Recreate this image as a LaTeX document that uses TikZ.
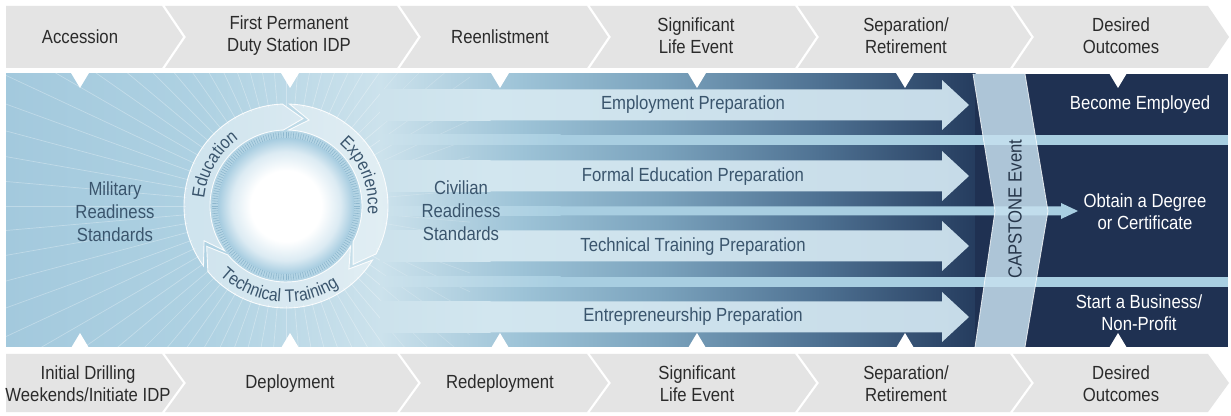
\documentclass[tikz,border=0pt]{standalone}
\usepackage{fontspec}
\setmainfont[FakeStretch=0.88]{Liberation Sans}
\usetikzlibrary{decorations.text}
\definecolor{graybox}{HTML}{E4E4E4}
\definecolor{graytext}{HTML}{2B2B2B}
\definecolor{bluetext}{HTML}{3A556D}
\definecolor{captext}{HTML}{26364A}
\definecolor{bgA}{HTML}{A3C9DD}
\definecolor{bgB}{HTML}{AED1E2}
\definecolor{bgC}{HTML}{CCE2EC}
\definecolor{dkA}{HTML}{CCE2EC}
\definecolor{dkB}{HTML}{9DC3D7}
\definecolor{dkC}{HTML}{7BA3BD}
\definecolor{dkD}{HTML}{4E7192}
\definecolor{dkE}{HTML}{253C5E}
\definecolor{navy}{HTML}{1F3152}
\definecolor{stripe}{HTML}{A8CEE1}
\definecolor{shaftL}{HTML}{D2E6EF}
\definecolor{shaftR}{HTML}{C6DBE8}
\definecolor{capfill}{HTML}{C6E0EF}
\definecolor{rimblue}{HTML}{8DB7CE}
\definecolor{rimbg}{HTML}{B5D5E5}
\definecolor{sphereA}{HTML}{DCEBF3}
\definecolor{sphereB}{HTML}{A6CCE0}
\pgfdeclareradialshading{spheresh}{\pgfpoint{0bp}{0bp}}{color(0bp)=(white); color(13bp)=(white); color(20bp)=(sphereA); color(25bp)=(sphereB); color(50bp)=(sphereB)}
\newcommand\ringfnt{\fontsize{18}{18}\selectfont\color{bluetext}}
\begin{document}
\begin{tikzpicture}[x=1pt,y=1pt,
  lbl/.style={font=\fontsize{19}{22}\selectfont, align=center, text=graytext},
  bluelbl/.style={font=\fontsize{19}{23}\selectfont, align=center, text=bluetext},
  whitelbl/.style={font=\fontsize{19}{22}\selectfont, align=center, text=white},
  caplbl/.style={font=\fontsize{19}{22}\selectfont, text=captext},
  chev/.style={fill=graybox, draw=none},
  ringseg/.style={fill=white, fill opacity=0.42, draw=white, draw opacity=0.9, line width=0.9pt},
]
\useasboundingbox (0,0) rectangle (1231,415);
\fill[white] (0,0) rectangle (1231,415);

% ---------- gray chevron bands ----------
\fill[chev] (6,409) -- (162,409) -- (183,378) -- (162,347) -- (6,347) -- cycle;
\foreach \a/\b in {162/397,397/587,587/795,795/1010,1010/1208}
  \fill[chev] ({\a+3},409) -- (\b,409) -- ({\b+21},378) -- (\b,347) -- ({\a+3},347) -- ({\a+24},378) -- cycle;
\fill[chev] (6,61) -- (162,61) -- (183,32) -- (162,3) -- (6,3) -- cycle;
\foreach \a/\b in {162/397,397/587,587/795,795/1010,1010/1208}
  \fill[chev] ({\a+3},61) -- (\b,61) -- ({\b+21},32) -- (\b,3) -- ({\a+3},3) -- ({\a+24},32) -- cycle;

% ---------- blue band base ----------
\shade[left color=bgA, right color=bgB] (6,68) rectangle (200.5,341);
\shade[left color=bgB, right color=bgC] (200,68) rectangle (380.5,341);

% rays
\begin{scope}
  \clip (6,68) rectangle (380,341);
  \foreach \t in {0,5,...,355}
    \draw[white, opacity=0.3, line width=0.7pt] (286,209) ++(\t:100) -- ++(\t:520);
\end{scope}

% dark gradient layer
\shade[left color=dkA, right color=dkB] (380,68) rectangle (520.5,341);
\shade[left color=dkB, right color=dkC] (520,68) rectangle (660.5,341);
\shade[left color=dkC, right color=dkD] (660,68) rectangle (820.5,341);
\shade[left color=dkD, right color=dkE] (820,68) rectangle (975.5,341);
\fill[navy] (975,68) rectangle (1228,341);

% faint rays continuing into the stripes
\begin{scope}
  \clip (380,68) rectangle (470,341);
  \foreach \t in {-60,-55,...,60}
    \draw[white, opacity=0.18, line width=0.7pt] (286,209) ++(\t:100) -- ++(\t:520);
\end{scope}

% pale stripes
\shade[left color=dkA, right color=stripe] (380,270) rectangle (560.5,280);
\fill[stripe] (560,270) rectangle (1228,280);
\shade[left color=dkA, right color=stripe] (380,128) rectangle (560.5,138);
\fill[stripe] (560,128) rectangle (1228,138);
\shade[left color=dkA, right color=stripe] (380,199.5) rectangle (560.5,208.5);
\fill[stripe] (560,199.5) -- (1061,199.5) -- (1061,196) -- (1078,204) -- (1061,212) -- (1061,208.5) -- (560,208.5) -- cycle;

% preparation arrows (shaft blends in from the light left side)
\foreach \c in {310,239,169,98} {
  \shade[left color=dkA, right color=shaftL] (380,{\c-15.5}) rectangle (490.5,{\c+15.5});
  \shade[left color=shaftL, right color=shaftR]
    (490,{\c+15.5}) -- (942,{\c+15.5}) -- (942,{\c+25}) -- (969,\c) -- (942,{\c-25}) -- (942,{\c-15.5}) -- (490,{\c-15.5}) -- cycle;
}

% capstone chevron
\fill[capfill, fill opacity=0.85] (973,341) -- (1025,341) -- (1048,204) -- (1025,68) -- (975,68) -- (995,204) -- cycle;
\draw[white, line width=0.8pt, opacity=0.8] (973,341) -- (995,204) -- (975,68);
\draw[white, line width=0.8pt, opacity=0.8] (1025,341) -- (1048,204) -- (1025,68);

% ---------- circle ----------
\begin{scope}[shift={(286,209)}]
  \fill[rimbg] (0,0) circle (76);
  \foreach \t in {0,2,...,358}
    \draw[rimblue, line width=0.6pt] (\t:65) -- (\t:74);
  \shade[shading=spheresh] (0,0) circle (68);
  % ring segments (clockwise arrows)
  \foreach \a/\b in {216/92, 88/-28, -32/-140}
    \draw[ringseg] (\a:102) arc[start angle=\a, end angle=\b, radius=102]
      -- ({\b-13}:89) -- (\b:76) arc[start angle=\b, end angle=\a, radius=76]
      -- ({\a-13}:89) -- cycle;
  \path[decorate, decoration={text along path, text align=center, text={|\ringfnt|Education}}]
    (200:82) arc[start angle=200, end angle=100, radius=82];
  \path[decorate, decoration={text along path, text align=center, text={|\ringfnt|Experience}}]
    (72:82) arc[start angle=72, end angle=-28, radius=82];
  \path[decorate, decoration={text along path, text align=center, text={|\ringfnt|Technical Training}}]
    (212:96) arc[start angle=212, end angle=318, radius=96];
\end{scope}

% ---------- white notches ----------
\foreach \x in {80,290,500,697,905,1118} {
  \fill[white] ({\x-9},342) -- ({\x+9},342) -- (\x,327) -- cycle;
  \fill[white] ({\x-9},67) -- ({\x+9},67) -- (\x,82) -- cycle;
}

% ---------- labels ----------
\node[lbl] (t1) at (80,378) {Accession};
\node[lbl] (t2) at (289,379) {First Permanent\\Duty Station IDP};
\node[lbl] (t3) at (500,378) {Reenlistment};
\node[lbl] (t4) at (696,379) {Significant\\Life Event};
\node[lbl] (t5) at (906,379) {Separation/\\Retirement};
\node[lbl] (t6) at (1121,379) {Desired\\Outcomes};

\node[lbl] (b1) at (88,31) {Initial Drilling\\Weekends/Initiate IDP};
\node[lbl] (b2) at (290,31) {Deployment};
\node[lbl] (b3) at (500,31) {Redeployment};
\node[lbl] (b4) at (697,31) {Significant\\Life Event};
\node[lbl] (b5) at (906,31) {Separation/\\Retirement};
\node[lbl] (b6) at (1121,31) {Desired\\Outcomes};

\node[bluelbl] (mil) at (115,203) {Military\\Readiness\\Standards};
\node[bluelbl] (civ) at (461,204) {Civilian\\Readiness\\Standards};

\node[bluelbl] (ep) at (693,310) {Employment Preparation};
\node[bluelbl] (fe) at (693,238) {Formal Education Preparation};
\node[bluelbl] (tp) at (693,168) {Technical Training Preparation};
\node[bluelbl] (en) at (693,98) {Entrepreneurship Preparation};

\node[whitelbl] (be) at (1140,310) {Become Employed};
\node[whitelbl] (od) at (1145,203) {Obtain a Degree\\or Certificate};
\node[whitelbl] (sb) at (1139,102) {Start a Business/\\Non-Profit};

\node[caplbl, rotate=90] (cap) at (1015,206) {CAPSTONE Event};
\end{tikzpicture}
\end{document}
